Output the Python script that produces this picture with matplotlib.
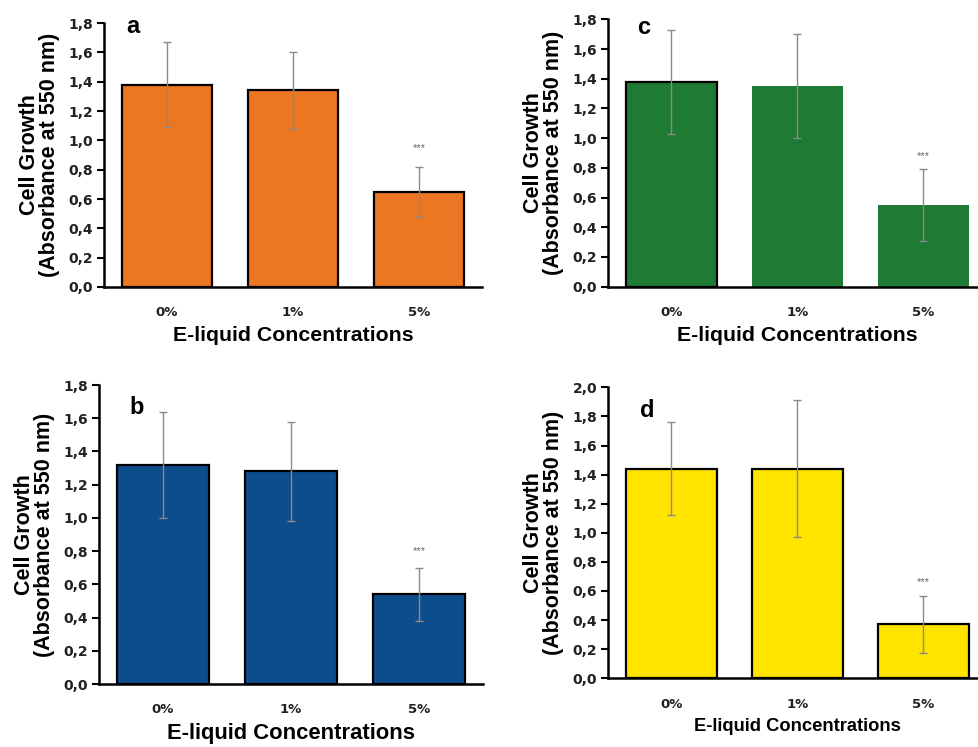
import matplotlib
matplotlib.use("Agg")
import matplotlib.pyplot as plt
from matplotlib.ticker import FuncFormatter, MultipleLocator

plt.rcParams['font.family'] = ['Liberation Sans', 'DejaVu Sans']

categories = ["0%", "1%", "5%"]

a_values = [1.38, 1.34, 0.65]
a_errors = [0.29, 0.26, 0.17]
b_values = [1.32, 1.28, 0.54]
b_errors = [0.32, 0.30, 0.16]
c_values = [1.38, 1.35, 0.55]
c_errors = [0.35, 0.35, 0.24]
d_values = [1.44, 1.44, 0.37]
d_errors = [0.32, 0.47, 0.195]

panels = [
    # letter, values, errors, color, edges, ylim, axes rect, star y, xlabel size, letter pos
    ("a", a_values, a_errors, "#EC7622", ["black"] * 3, 1.8,
     [0.1062, 0.6158, 0.3861, 0.3534], 0.95, 15.3, (0.077, 0.985)),
    ("c", c_values, c_errors, "#1F7A34", ["black", "none", "none"], 1.8,
     [0.6213, 0.6162, 0.3861, 0.3579], 0.88, 15.3, (0.093, 0.97)),
    ("b", b_values, b_errors, "#0E4D8B", ["black"] * 3, 1.8,
     [0.1011, 0.0843, 0.3923, 0.4003], 0.80, 15.8, (0.099, 0.926)),
    ("d", d_values, d_errors, "#FFE400", ["black"] * 3, 2.0,
     [0.6214, 0.0920, 0.3861, 0.3895], 0.66, 13.2, (0.103, 0.921)),
]

fig = plt.figure(figsize=(9.79, 7.47), dpi=100)

fmt = FuncFormatter(lambda v, p: f"{v:.1f}".replace(".", ","))

for letter, vals, errs, color, edges, ymax, rect, stary, xls, lpos in panels:
    ax = fig.add_axes(rect)
    x = list(range(len(categories)))
    ax.bar(x, vals, width=0.72, color=color, edgecolor=edges,
           linewidth=1.6, zorder=2)
    ax.errorbar(x, vals, yerr=errs, fmt="none", ecolor="#8a8a8a",
                elinewidth=1.0, capsize=3, capthick=1.0, zorder=3)
    ax.text(2, stary, "***", ha="center", va="center", fontsize=8,
            color="#666666")
    ax.set_xlim(-0.5, 2.5)
    ax.set_ylim(0, ymax)
    ax.yaxis.set_major_locator(MultipleLocator(0.2))
    ax.yaxis.set_major_formatter(fmt)
    ax.set_xticks(x)
    ax.set_xticklabels(categories)
    ax.tick_params(axis="x", length=0, pad=14, labelsize=9.5)
    ax.tick_params(axis="y", length=5, width=1.5, pad=3, labelsize=10)
    for lab in ax.get_xticklabels() + ax.get_yticklabels():
        lab.set_fontweight("bold")
        lab.set_fontfamily("DejaVu Sans")
        lab.set_color("#222222")
    for s in ["top", "right"]:
        ax.spines[s].set_visible(False)
    for s in ["left", "bottom"]:
        ax.spines[s].set_linewidth(1.8)
    ax.set_ylabel("Cell Growth\n(Absorbance at 550 nm)", fontsize=15.5,
                  fontweight="bold", linespacing=0.95, labelpad=6)
    ax.set_xlabel("E-liquid Concentrations", fontsize=xls,
                  fontweight="bold", labelpad=5)
    ax.text(lpos[0], lpos[1], letter,
            transform=ax.transAxes, fontsize=17, fontweight="bold",
            ha="center", va="center")

fig.savefig("out.png", dpi=100)
